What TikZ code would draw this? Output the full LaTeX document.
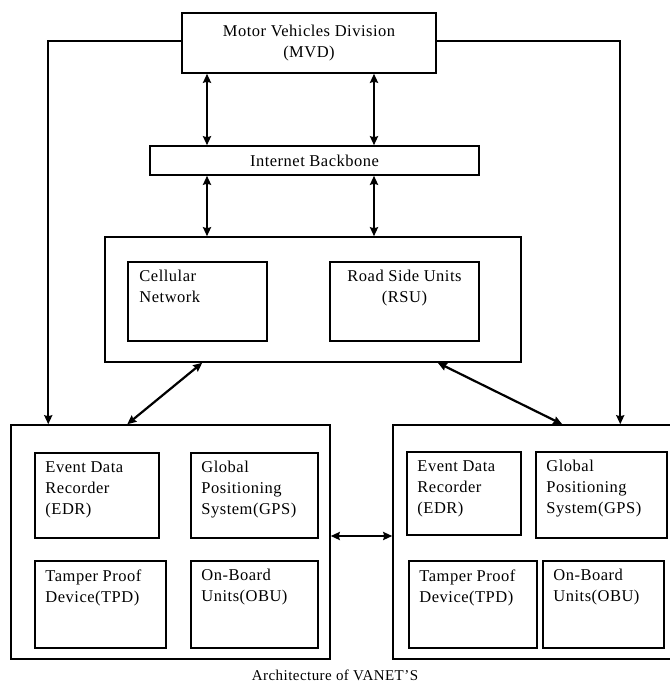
\documentclass[tikz,border=0pt]{standalone}
\usepackage{fontspec}
\setmainfont[LetterSpace=3]{Liberation Serif}
\usetikzlibrary{arrows.meta}
\tikzstyle{box} = [
    rectangle,
    draw=black,
    line width=1.5pt,
    inner sep=0pt
]
\tikzstyle{boxtext} = [
    align=left,
    anchor=north west,
    inner sep=0pt,
    font=\fontsize{16.5}{21}\selectfont
]
\tikzstyle{arrow} = [line width=2.2pt,<->,>={Stealth[length=9pt,width=8pt,inset=1pt]}]
\tikzstyle{feed} = [line width=2.2pt,->,>={Stealth[length=9pt,width=8pt,inset=1pt]}]

\begin{document}
\begin{tikzpicture}[x=1pt, y=-1pt]

\useasboundingbox (0,0) rectangle (669,687);

% top of the hierarchy
\node (mvd) [box, minimum width=254pt, minimum height=60pt, align=center,
    font=\fontsize{16.5}{21}\selectfont] at (309,43)
{Motor Vehicles Division\\(MVD)};

\node (ib) [box, minimum width=329pt, minimum height=29pt,
    font=\fontsize{16.5}{21}\selectfont] at (314.5,160.5)
{Internet Backbone};

% access network
\node (access) [box, minimum width=416pt, minimum height=125pt] at (313,299.5) {};
\node (cell) [box, minimum width=139pt, minimum height=79pt] at (197.5,301.5) {};
\node (rsu) [box, minimum width=149pt, minimum height=79pt] at (404.5,301.5) {};
\node (celltxt) [boxtext] at ([shift={(12,9)}]cell.north west) {Cellular\\Network};
\node (rsutxt) [boxtext, align=center, anchor=north] at ([yshift=-9pt]rsu.north) {Road Side Units\\(RSU)};

% vehicle one
\node (car1) [box, minimum width=319pt, minimum height=234pt] at (170.5,542) {};
\node (edr1) [box, minimum width=124pt, minimum height=85pt] at (97,495.5) {};
\node (gps1) [box, minimum width=127pt, minimum height=85pt] at (254.5,495.5) {};
\node (tpd1) [box, minimum width=131pt, minimum height=87pt] at (100.5,604.5) {};
\node (obu1) [box, minimum width=127pt, minimum height=87pt] at (254.5,604.5) {};
\node (edr1txt) [boxtext] at ([shift={(11,9)}]edr1.north west) {Event Data\\Recorder\\(EDR)};
\node (gps1txt) [boxtext] at ([shift={(11,9)}]gps1.north west) {Global\\Positioning\\System(GPS)};
\node (tpd1txt) [boxtext] at ([shift={(11,9)}]tpd1.north west) {Tamper Proof\\Device(TPD)};
\node (obu1txt) [boxtext] at ([shift={(11,9)}]obu1.north west) {On-Board\\Units(OBU)};

% vehicle two
\node (car2) [box, minimum width=279pt, minimum height=234pt] at (532.5,542) {};
\node (edr2) [box, minimum width=114pt, minimum height=83pt] at (464,493.5) {};
\node (gps2) [box, minimum width=131pt, minimum height=86pt] at (601.5,495) {};
\node (tpd2) [box, minimum width=128pt, minimum height=87pt] at (473,604.5) {};
\node (obu2) [box, minimum width=121pt, minimum height=87pt] at (603.5,604.5) {};
\node (edr2txt) [boxtext] at ([shift={(11,9)}]edr2.north west) {Event Data\\Recorder\\(EDR)};
\node (gps2txt) [boxtext] at ([shift={(11,9)}]gps2.north west) {Global\\Positioning\\System(GPS)};
\node (tpd2txt) [boxtext] at ([shift={(11,9)}]tpd2.north west) {Tamper Proof\\Device(TPD)};
\node (obu2txt) [boxtext] at ([shift={(11,9)}]obu2.north west) {On-Board\\Units(OBU)};

\node (caption) [font=\fontsize{15}{18}\selectfont] at (335,675) {Architecture of VANET'S};

\coordinate (colA) at (207,0);
\coordinate (colB) at (374,0);

\draw [arrow] (mvd.south -| colA) -- (ib.north -| colA);
\draw [arrow] (mvd.south -| colB) -- (ib.north -| colB);
\draw [arrow] (ib.south -| colA) -- (access.north -| colA);
\draw [arrow] (ib.south -| colB) -- (access.north -| colB);
\draw [arrow] ([xshift=98pt]access.south west) -- ([xshift=117pt]car1.north west);
\draw [arrow] ([xshift=-84pt]access.south east) -- ([xshift=170pt]car2.north west);
\draw [arrow] ([yshift=6pt]car1.east) -- ([yshift=6pt]car2.west);
\draw [feed] ([yshift=2pt]mvd.west) -| ([xshift=38pt]car1.north west);
\draw [feed] ([yshift=2pt]mvd.east) -| ([xshift=228pt]car2.north west);

\end{tikzpicture}
\end{document}
